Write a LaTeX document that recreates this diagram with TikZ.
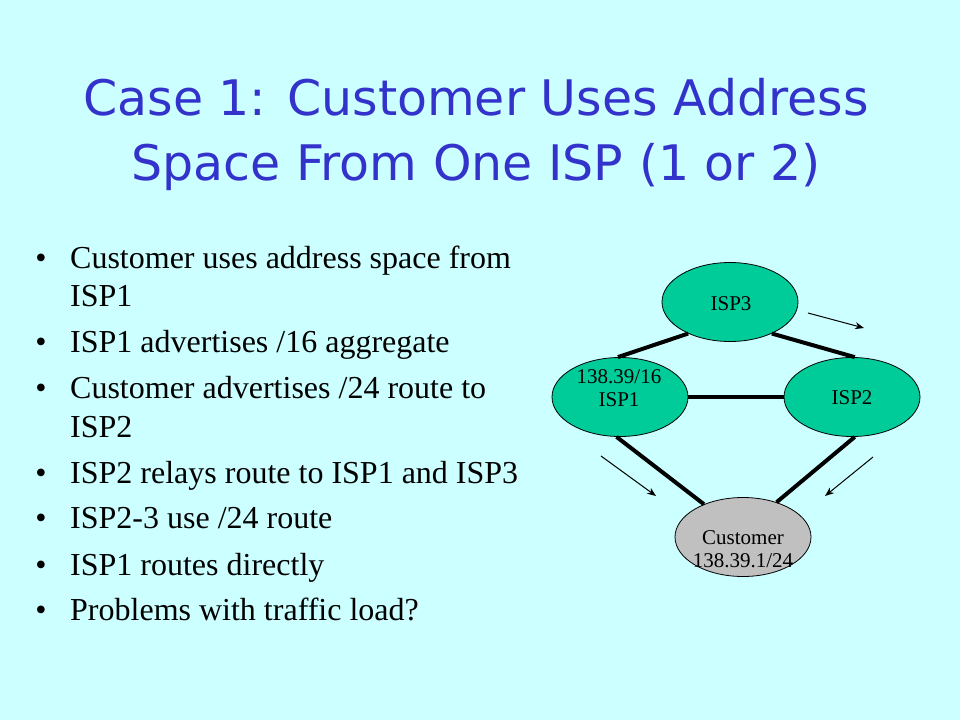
\documentclass[tikz,border=0pt]{standalone}
\usepackage{fontspec}
\setmainfont{Liberation Serif}
\newfontfamily\titlefont{DejaVu Sans}
\usetikzlibrary{shapes.geometric,arrows.meta}
\definecolor{bgcyan}{RGB}{204,255,255}
\definecolor{titleblue}{RGB}{51,51,204}
\definecolor{ispgreen}{RGB}{0,204,153}
\definecolor{custgray}{RGB}{192,192,192}
\tikzset{
  titletext/.style={font=\titlefont\fontsize{49}{58}\selectfont, text=titleblue, inner sep=0pt, anchor=base},
  bullettext/.style={font=\fontsize{32}{38}\selectfont, inner sep=0pt, anchor=base west},
  bulletdot/.style={font=\fontsize{32}{38}\selectfont, inner sep=0pt, anchor=base},
  router/.style={ellipse, draw=black, line width=0.8pt, minimum width=136pt, minimum height=79pt, inner sep=0pt},
  isp/.style={router, fill=ispgreen},
  cust/.style={router, fill=custgray},
  rlabel/.style={align=center, inner sep=0pt, font=\fontsize{21}{22.5}\selectfont},
  link/.style={line width=4pt},
  flow/.style={line width=1pt, -{Stealth[length=9pt,width=7pt]}}
}
\begin{document}
\begin{tikzpicture}[x=1pt,y=-1pt]
\fill[bgcyan] (0,0) rectangle (960,720);
\useasboundingbox (0,0) rectangle (960,720);
% title
\node[titletext] (t1) at (476,115) {Case 1: Customer Uses Address};
\node[titletext] (t2) at (476,180) {Space From One ISP (1 or 2)};
% bullets
\node[bulletdot] (d1) at (41,268) {•};
\node[bullettext] (b1) at (70,268) {Customer uses address space from};
\node[bullettext] (b1b) at (70,306) {ISP1};
\node[bulletdot] (d2) at (41,352) {•};
\node[bullettext] (b2) at (70,352) {ISP1 advertises /16 aggregate};
\node[bulletdot] (d3) at (41,398) {•};
\node[bullettext] (b3) at (70,398) {Customer advertises /24 route to};
\node[bullettext] (b3b) at (70,437) {ISP2};
\node[bulletdot] (d4) at (41,483) {•};
\node[bullettext] (b4) at (70,483) {ISP2 relays route to ISP1 and ISP3};
\node[bulletdot] (d5) at (41,528) {•};
\node[bullettext] (b5) at (70,528) {ISP2-3 use /24 route};
\node[bulletdot] (d6) at (41,575) {•};
\node[bullettext] (b6) at (70,575) {ISP1 routes directly};
\node[bulletdot] (d7) at (41,620) {•};
\node[bullettext] (b7) at (70,620) {Problems with traffic load?};
% diagram
\node[isp] (isp3) at (730,302) {};
\node[isp] (isp1) at (620,397) {};
\node[isp] (isp2) at (852,397) {};
\node[cust] (cust) at (743,537) {};
\node[rlabel] (l3) at (731,304) {ISP3};
\node[rlabel] (l1) at (619,388) {138.39/16\\ISP1};
\node[rlabel] (l2) at (852,398) {ISP2};
\node[rlabel] (lc) at (743,549) {Customer\\138.39.1/24};
\draw[link] (isp3.217) -- (isp1.93);
\draw[link] (isp3.323) -- (isp2.86);
\draw[link] (isp1.east) -- (isp2.west);
\draw[link] (isp1.265) -- (cust.140);
\draw[link] (isp2.274) -- (cust.46);
% flow arrows
\coordinate (a1s) at (808,313);
\coordinate (a1e) at (864,328);
\coordinate (a2s) at (601,456);
\coordinate (a2e) at (656,496);
\coordinate (a3s) at (873,457);
\coordinate (a3e) at (825,496);
\draw[flow] (a1s) -- (a1e);
\draw[flow] (a2s) -- (a2e);
\draw[flow] (a3s) -- (a3e);
\end{tikzpicture}
\end{document}
